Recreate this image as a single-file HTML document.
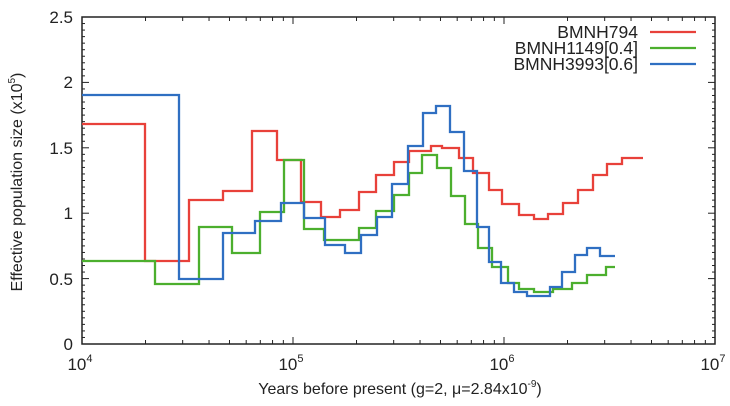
<!DOCTYPE html>
<html><head><meta charset="utf-8"><style>
body{margin:0;background:#fff;}
svg{display:block;font-family:"Liberation Sans",sans-serif;}
</style></head><body>
<svg id="s" width="730" height="406" viewBox="0 0 730 406" xmlns="http://www.w3.org/2000/svg">
<rect width="730" height="406" fill="#fff"/>
<g id="ticks" stroke="#222" stroke-width="1"></g>
<rect x="82" y="17" width="633" height="327" fill="none" stroke="#222" stroke-width="1.5"/>
<g font-size="17" fill="#222" text-anchor="end">
<text x="73" y="23">2.5</text>
<text x="73" y="88">2</text>
<text x="73" y="154">1.5</text>
<text x="73" y="219">1</text>
<text x="73" y="285">0.5</text>
<text x="73" y="350">0</text>
</g>
<g font-size="17" fill="#222" text-anchor="middle">
<text x="80" y="370">10<tspan font-size="11" dy="-8">4</tspan></text>
<text x="291" y="370">10<tspan font-size="11" dy="-8">5</tspan></text>
<text x="502" y="370">10<tspan font-size="11" dy="-8">6</tspan></text>
<text x="713" y="370">10<tspan font-size="11" dy="-8">7</tspan></text>
</g>
<text x="400" y="394" font-size="16" fill="#222" text-anchor="middle">Years before present (g=2, μ=2.84x10<tspan font-size="10" dy="-7">-9</tspan><tspan dy="7">)</tspan></text>
<text transform="translate(22,182) rotate(-90)" font-size="16" fill="#222" text-anchor="middle">Effective population size (x10<tspan font-size="10" dy="-7">5</tspan><tspan dy="7">)</tspan></text>
<g fill="none" stroke-width="2.3">
<path stroke="#e8413a" d="M82,124 H145 V261 H189 V200 H223 V191 H252 V131 H277 V160 H301 V202 H321 V217 H340 V210 H359 V192 H376 V175 H394 V162 H409 V151 H431 V146 H442 V148 H459 V158 H473 V173 H489 V190 H502 V204 H519 V215 H534 V219 H548 V214 H563 V203 H578 V190 H593 V175 H607 V164 H622 V158 H643"/>
<path stroke="#4caf2e" d="M82,261 H155 V284 H199 V227 H232 V253 H260 V212 H284 V160 H304 V229 H324 V240 H359 V228 H376 V211 H394 V195 H409 V173 H422 V155 H437 V168 H451 V196 H465 V224 H478 V248 H492 V267 H508 V283 H519 V289 H534 V292 H553 V289 H572 V283 H587 V275 H606 V267 H615"/>
<path stroke="#2f6fc2" d="M82,95 H179 V279 H223 V233 H255 V221 H281 V203 H304 V218 H325 V245 H345 V253 H361 V235 H377 V217 H392 V184 H408 V146 H423 V113 H436 V106 H450 V132 H464 V171 H477 V227 H489 V262 H501 V283 H514 V292 H527 V296 H550 V287 H562 V272 H575 V255 H587 V248 H600 V256 H615"/>
</g>
<g font-size="17.5" fill="#222" text-anchor="end">
<text x="638" y="38">BMNH794</text>
<text x="638" y="54">BMNH1149[0.4]</text>
<text x="638" y="70">BMNH3993[0.6]</text>
</g>
<g stroke-width="2.3">
<line x1="650" y1="32" x2="696" y2="32" stroke="#e8413a"/>
<line x1="650" y1="48" x2="696" y2="48" stroke="#4caf2e"/>
<line x1="650" y1="64" x2="696" y2="64" stroke="#2f6fc2"/>
</g>
</svg>
<script>
var g=document.getElementById('ticks'),h='';
for(var i=1;i<50;i++){var y=344-i*0.05*130.8,L=(i%10==0)?7:3;
h+='<line x1="82" y1="'+y+'" x2="'+(82+L)+'" y2="'+y+'"/><line x1="715" y1="'+y+'" x2="'+(715-L)+'" y2="'+y+'"/>';}
for(var d=0;d<3;d++)for(var m=1;m<10;m++){var x=82+211*(d+Math.log10(m)),L=(m==1)?7:4;
h+='<line x1="'+x+'" y1="344" x2="'+x+'" y2="'+(344-L)+'"/><line x1="'+x+'" y1="17" x2="'+x+'" y2="'+(17+L)+'"/>';}
g.innerHTML=h;
</script>
</body></html>
